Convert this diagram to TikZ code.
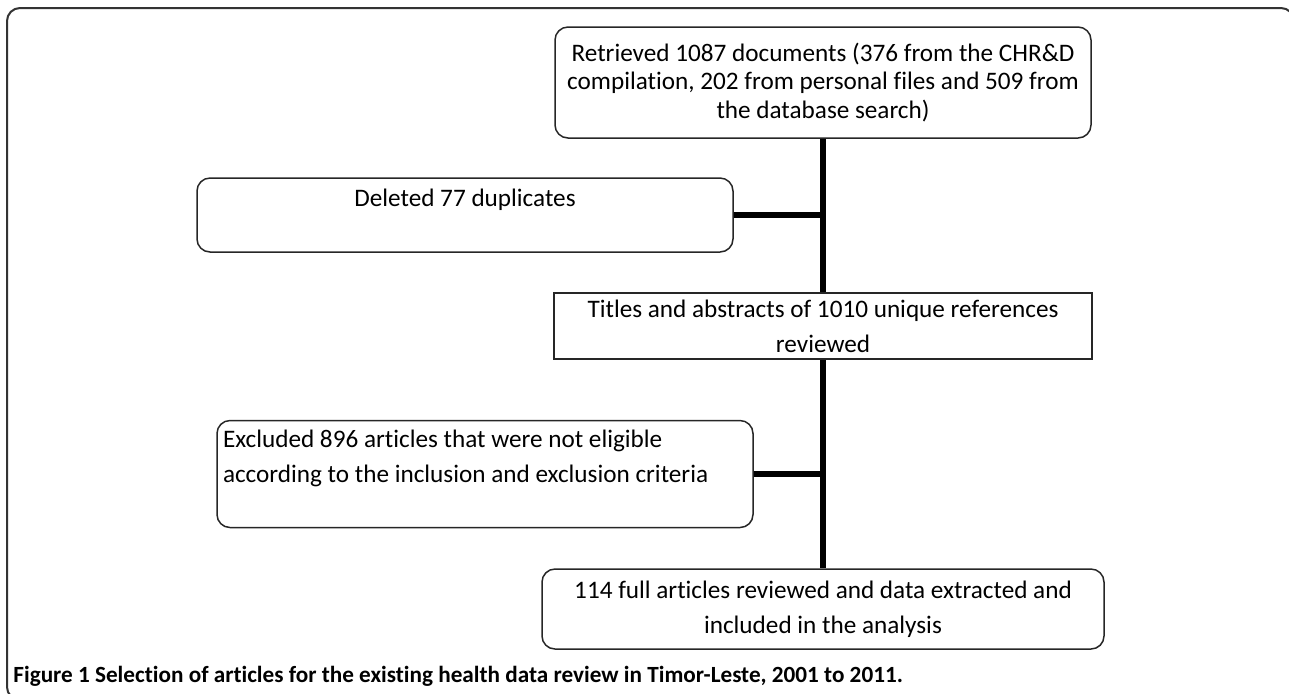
\documentclass[tikz,border=0pt]{standalone}
\usepackage{fontspec}
\setmainfont{Carlito}[Ligatures=NoCommon]
\usepackage{tikz}
\usetikzlibrary{shapes,arrows}
\tikzstyle{block} = [rectangle, draw=black!85, line width=0.75pt,
    rounded corners=6.5pt, align=center, inner sep=0pt,
    font=\fontsize{12.6}{17.5}\selectfont]
\tikzstyle{blocktop} = [block, font=\fontsize{12.6}{14.2}\selectfont]
\tikzstyle{blocksq} = [block, sharp corners]
\tikzstyle{blockl} = [block, align=flush left, inner xsep=3pt,
    text width=262pt]
\tikzstyle{line} = [draw, line width=2.6pt]
\tikzstyle{frame} = [draw=black!80, line width=1pt, rounded corners=6.5pt]

\begin{document}
\begin{tikzpicture}[x=0.5pt, y=-0.5pt, node distance=2.4cm]
    \useasboundingbox (0,0) rectangle (1289,693);
    \begin{scope}
    \clip (0,0) rectangle (1289,693);
    \path [frame] (7,8) rectangle (1294,700);
    \end{scope}

    % Place nodes
    \node [blocktop, minimum width=268pt, minimum height=55.5pt] (retr)
    at (823,82.5) {Retrieved 1087 documents (376 from the CHR\&D\\
    compilation, 202 from personal files and 509 from\\
    the database search)};
    \node [block, minimum width=268pt, minimum height=37pt] (dupl)
    at (465,215) {Deleted 77 duplicates\\~};
    \node [blocksq, below of=retr, node distance=121.75pt,
    minimum width=269pt, minimum height=33pt] (titles)
    {Titles and abstracts of 1010 unique references\\reviewed};
    \node [blockl, minimum width=268pt, minimum height=53.5pt] (excl)
    at (485,474) {Excluded 896 articles that were not eligible\\
    according to the inclusion and exclusion criteria\\~};
    \node [block, below of=titles, node distance=141.5pt,
    minimum width=281pt, minimum height=40pt] (full)
    {114 full articles reviewed and data extracted and\\
    included in the analysis};
    \node [anchor=base west, inner sep=0pt,
    font=\bfseries\fontsize{11.6}{14}\selectfont] (caption) at (13,682)
    {Figure 1 Selection of articles for the existing health data review
    in Timor-Leste, 2001 to 2011.};

    % Draw edges
    \path [line] (retr) -- (titles);
    \path [line] (titles) -- (full);
    \path [line] (dupl) -- (dupl -| retr);
    \path [line] (excl) -- (excl -| retr);

\end{tikzpicture}
\end{document}
